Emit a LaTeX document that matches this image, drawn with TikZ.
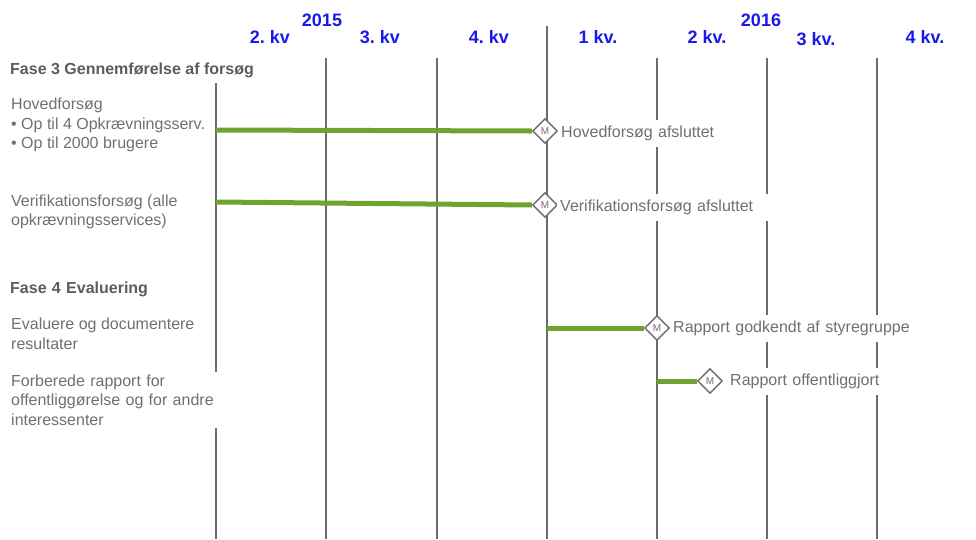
\documentclass[tikz,border=0pt]{standalone}
\usepackage{fontspec}
\setmainfont{Liberation Sans}
\usetikzlibrary{shapes.geometric}
\definecolor{bleuKv}{RGB}{25,25,235}
\definecolor{grisTexte}{RGB}{112,112,112}
\definecolor{grisTitre}{RGB}{92,92,92}
\definecolor{grisLigne}{RGB}{108,108,108}
\definecolor{vertBarre}{RGB}{112,162,48}
\frenchspacing
\begin{document}
\begin{tikzpicture}[x=1pt,y=-1pt]
% Styles
\tikzstyle{ligne}=[grisLigne,line width=1.6pt]
\tikzstyle{barre}=[vertBarre,line width=5pt]
\tikzstyle{jalon}=[diamond,draw=grisLigne,line width=1.4pt,fill=white,minimum size=25pt,inner sep=0pt,text=grisTexte,font=\fontsize{10}{10}\selectfont]
\tikzstyle{trimestre}=[text=bleuKv,font=\fontsize{18}{18}\selectfont\bfseries]
\tikzstyle{tache}=[anchor=west,align=left,text=grisTexte,inner sep=3pt,font=\fontsize{16}{19.5}\selectfont]
\tikzstyle{phase}=[anchor=west,align=left,fill=white,text=grisTitre,inner sep=3pt,minimum height=25pt,font=\fontsize{16}{19.5}\selectfont\bfseries]
\tikzstyle{etiquette}=[anchor=west,align=left,fill=white,text=grisTexte,inner sep=3pt,minimum height=27pt,font=\fontsize{16}{19.5}\selectfont]
% Dimensions
\def\HautLigne{58}
\def\BasLigne{539}
\useasboundingbox (0,0) rectangle (976,539);
% Lignes des trimestres
\foreach \x in {216,326,437,657,767,877}
  \draw[ligne] (\x,\HautLigne) -- (\x,\BasLigne);
\draw[ligne] (547,26) -- (547,\BasLigne);
% En-tete
\node[trimestre] (A2015) at (322,20) {2015};
\node[trimestre] (A2016) at (761,20) {2016};
\node[trimestre] (K1) at (270,37) {2. kv};
\node[trimestre] (K2) at (380,37) {3. kv};
\node[trimestre] (K3) at (489,37) {4. kv};
\node[trimestre] (K4) at (598,37) {1 kv.};
\node[trimestre] (K5) at (707,37) {2 kv.};
\node[trimestre] (K6) at (816,39) {3 kv.};
\node[trimestre] (K7) at (925,37) {4 kv.};
% Taches
\node[phase] (P3) at (7,70) {Fase 3 Gennemførelse af forsøg};
\node[tache] (T1) at (8,125) {Hovedforsøg\\• Op til 4 Opkrævningsserv.\\• Op til 2000 brugere};
\node[tache] (T2) at (8,212) {Verifikationsforsøg (alle\\opkrævningsservices)};
\node[phase,text width=178pt] (P4) at (7,289) {Fase 4 Evaluering};
\node[tache] (T3) at (8,334) {Evaluere og documentere\\resultater};
\node[tache,fill=white,text width=224pt] (T4) at (8,400) {Forberede rapport for\\offentliggørelse og for andre\\interessenter};
% Jalons
\node[jalon] (M1) at (545,131) {M};
\node[jalon] (M2) at (545,205) {M};
\node[jalon] (M3) at (657,328) {M};
\node[jalon] (M4) at (710,381) {M};
\node[etiquette,text width=185pt] (E1) at (558,133) {Hovedforsøg afsluttet};
\node[etiquette,text width=205pt] (E2) at (557,207) {Verifikationsforsøg afsluttet};
\node[etiquette,text width=240pt] (E3) at (670,328) {Rapport godkendt af styregruppe};
\node[etiquette,text width=185pt] (E4) at (727,381) {Rapport offentliggjort};
% Barres
\coordinate (D1) at (216,130);
\coordinate (D2) at (216,202);
\coordinate (D3) at (547,328);
\coordinate (D4) at (657,381);
\draw[barre] (D1) -- (M1.west);
\draw[barre] (D2) -- (M2.west);
\draw[barre] (D3) -- (M3.west);
\draw[barre] (D4) -- (M4.west);
\end{tikzpicture}
\end{document}
